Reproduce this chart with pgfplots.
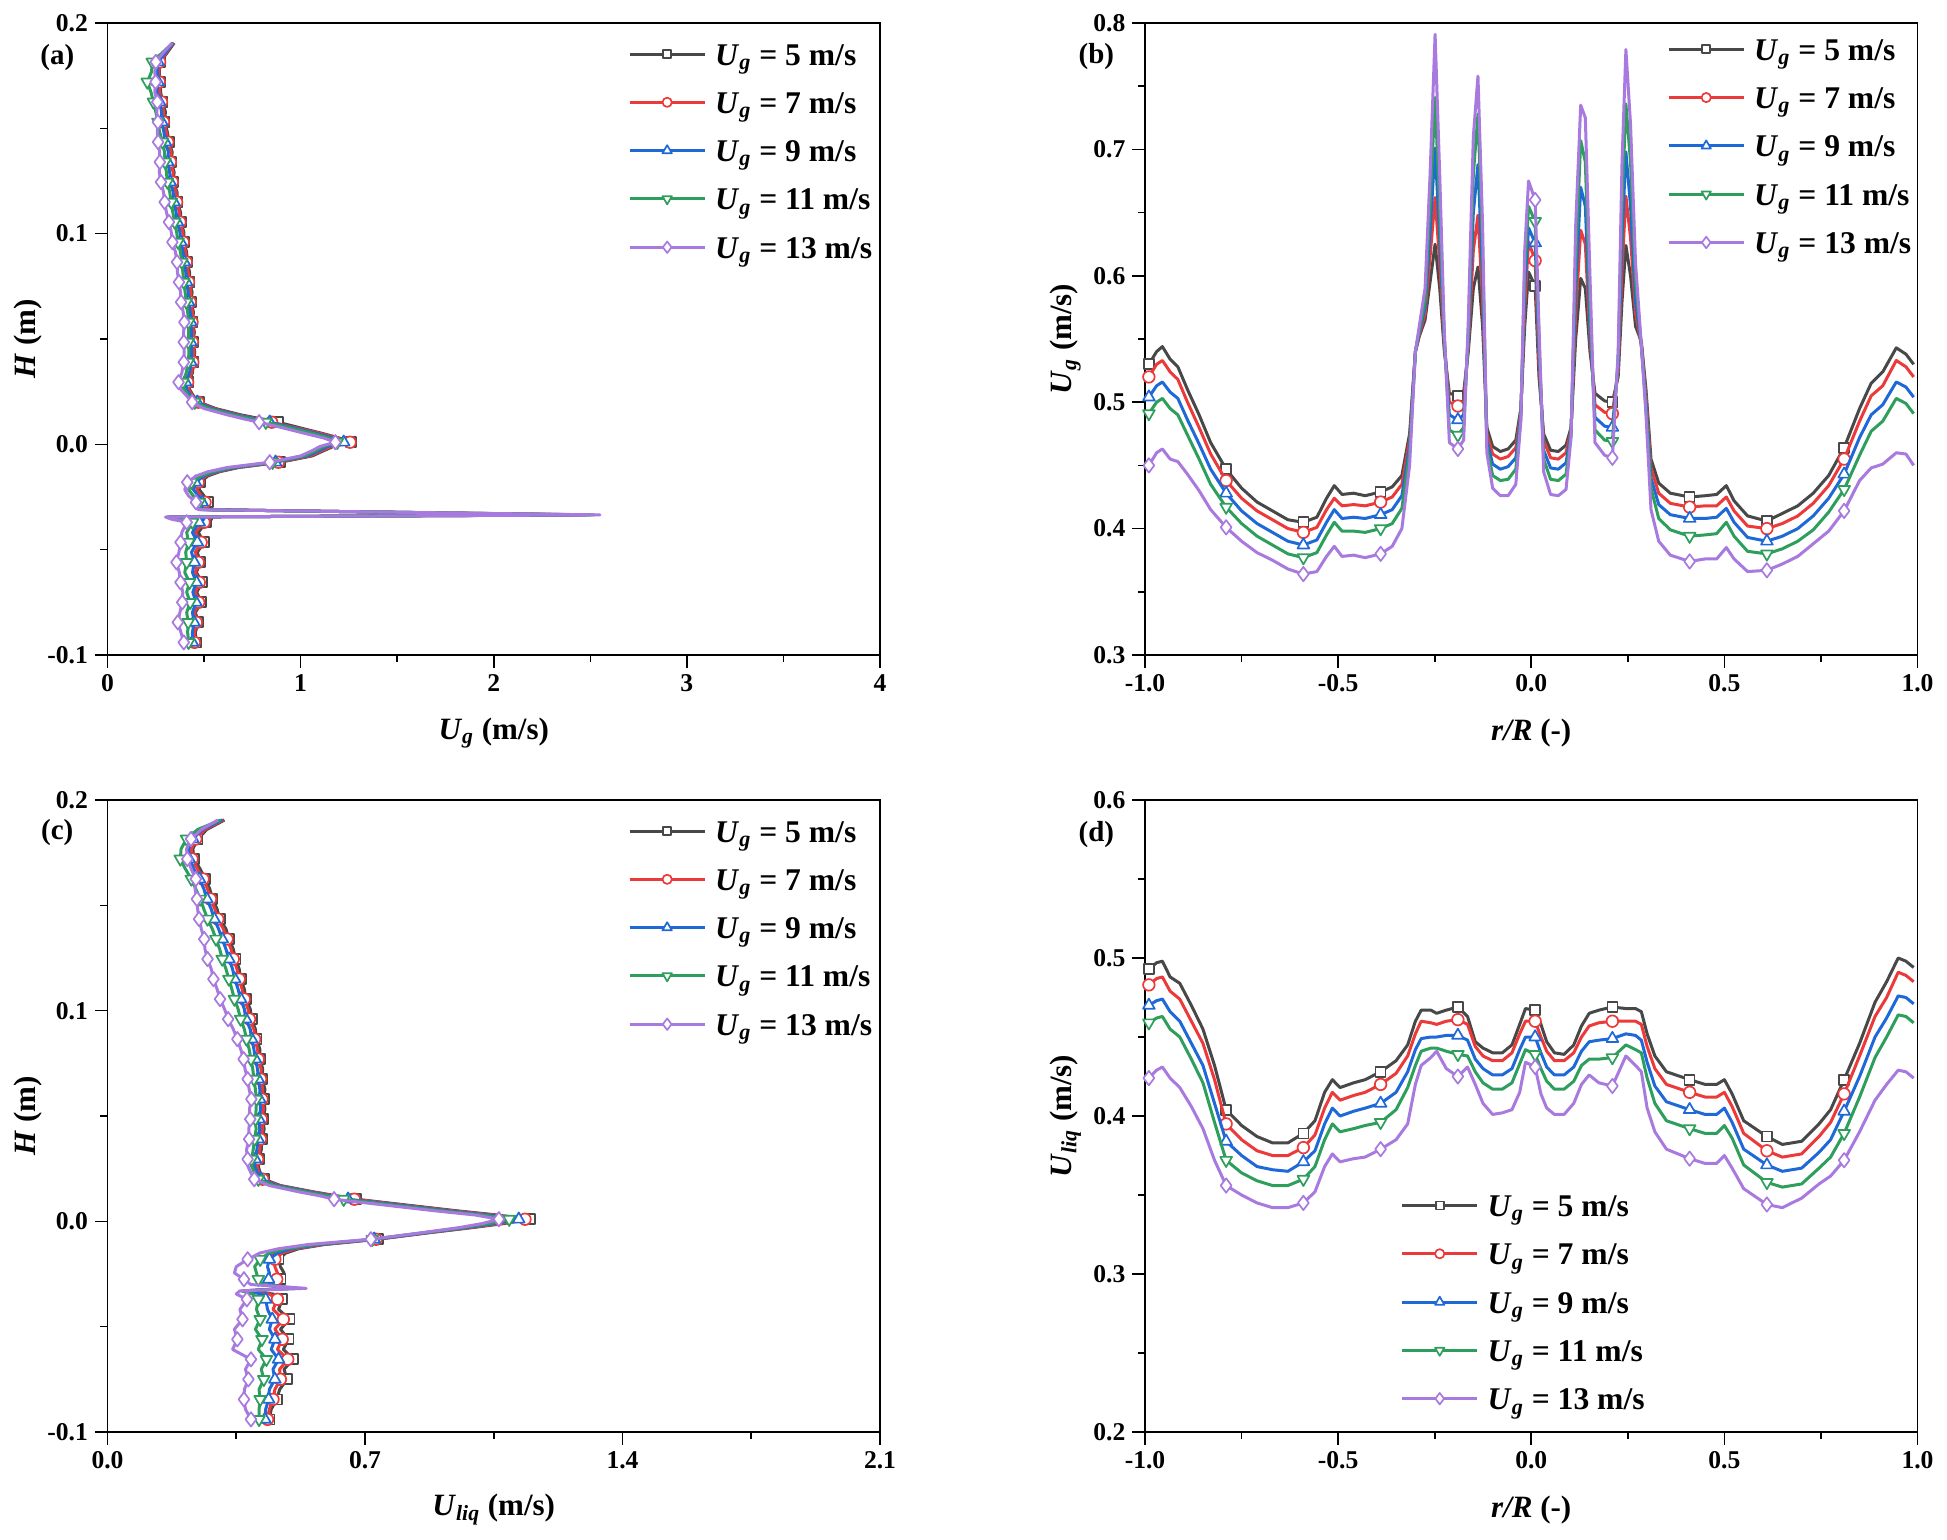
\documentclass[border=0pt]{standalone}
\usepackage{fontspec}
\setmainfont{Liberation Serif}
\usepackage{pgfplots}
\usepackage{pgfplotstable}
\pgfplotsset{compat=1.18}
\definecolor{c5}{HTML}{484848}
\definecolor{c7}{HTML}{EC3A3A}
\definecolor{c9}{HTML}{1F68D8}
\definecolor{c11}{HTML}{2E9E5C}
\definecolor{c13}{HTML}{A87ADF}

\pgfplotstableread{
H a5 a7 a9 a11 a13
0.1905 0.345 0.342 0.340 0.338 0.335
0.1860 0.310 0.305 0.300 0.285 0.290
0.1815 0.272 0.270 0.262 0.232 0.250
0.1768 0.268 0.266 0.258 0.228 0.245
0.1720 0.272 0.268 0.262 0.206 0.249
0.1672 0.275 0.270 0.255 0.225 0.245
0.1625 0.285 0.280 0.270 0.238 0.258
0.1578 0.300 0.292 0.280 0.250 0.255
0.1530 0.295 0.290 0.282 0.262 0.261
0.1482 0.310 0.305 0.292 0.270 0.258
0.1435 0.318 0.312 0.300 0.285 0.262
0.1388 0.335 0.330 0.315 0.295 0.270
0.1340 0.330 0.326 0.312 0.298 0.271
0.1292 0.345 0.340 0.322 0.305 0.268
0.1245 0.340 0.336 0.325 0.310 0.277
0.1198 0.360 0.355 0.340 0.322 0.290
0.1150 0.362 0.358 0.345 0.330 0.296
0.1102 0.378 0.372 0.355 0.338 0.305
0.1055 0.380 0.375 0.362 0.348 0.318
0.1008 0.395 0.390 0.375 0.358 0.330
0.0960 0.395 0.392 0.380 0.365 0.336
0.0912 0.410 0.405 0.392 0.378 0.352
0.0865 0.412 0.408 0.398 0.385 0.360
0.0818 0.425 0.418 0.405 0.390 0.362
0.0770 0.425 0.420 0.410 0.395 0.370
0.0722 0.438 0.432 0.418 0.402 0.378
0.0675 0.432 0.428 0.420 0.408 0.381
0.0628 0.445 0.440 0.428 0.415 0.392
0.0580 0.440 0.438 0.432 0.420 0.398
0.0532 0.450 0.445 0.435 0.420 0.394
0.0485 0.442 0.440 0.432 0.418 0.395
0.0438 0.452 0.448 0.436 0.422 0.397
0.0390 0.445 0.442 0.432 0.418 0.395
0.0340 0.440 0.436 0.425 0.408 0.385
0.0295 0.420 0.415 0.405 0.390 0.368
0.0260 0.425 0.420 0.410 0.398 0.380
0.0230 0.445 0.440 0.432 0.422 0.410
0.0200 0.475 0.470 0.465 0.452 0.438
0.0170 0.560 0.550 0.540 0.525 0.500
0.0140 0.690 0.675 0.665 0.650 0.620
0.0122 0.790 0.770 0.760 0.740 0.700
0.0105 0.883 0.850 0.840 0.820 0.785
0.0080 0.990 0.970 0.955 0.940 0.900
0.0050 1.120 1.110 1.090 1.070 1.030
0.0030 1.200 1.190 1.170 1.150 1.120
0.0010 1.262 1.256 1.223 1.190 1.180
-0.0010 1.170 1.160 1.140 1.120 1.100
-0.0030 1.120 1.110 1.095 1.080 1.060
-0.0055 1.060 1.050 1.035 1.020 1.000
-0.0085 0.893 0.885 0.870 0.855 0.840
-0.0110 0.680 0.670 0.660 0.645 0.620
-0.0130 0.580 0.570 0.560 0.545 0.520
-0.0150 0.520 0.510 0.500 0.485 0.460
-0.0180 0.480 0.470 0.455 0.435 0.413
-0.0215 0.475 0.462 0.445 0.420 0.400
-0.0245 0.500 0.485 0.470 0.445 0.420
-0.0275 0.520 0.505 0.490 0.475 0.458
-0.0310 0.510 0.500 0.490 0.480 0.470
-0.0335 2.450 2.480 2.500 2.520 2.550
-0.0345 0.320 0.315 0.310 0.305 0.300
-0.0355 0.540 0.530 0.500 0.450 0.330
-0.0370 0.510 0.500 0.475 0.440 0.410
-0.0418 0.470 0.455 0.440 0.410 0.385
-0.0465 0.500 0.485 0.465 0.420 0.378
-0.0512 0.465 0.455 0.435 0.405 0.370
-0.0560 0.480 0.470 0.450 0.410 0.357
-0.0608 0.460 0.455 0.440 0.400 0.372
-0.0655 0.490 0.475 0.460 0.425 0.378
-0.0702 0.462 0.455 0.442 0.410 0.390
-0.0750 0.485 0.472 0.458 0.428 0.387
-0.0798 0.455 0.450 0.440 0.410 0.375
-0.0845 0.470 0.460 0.448 0.418 0.364
-0.0892 0.455 0.450 0.440 0.415 0.380
-0.0940 0.458 0.450 0.440 0.420 0.395
-0.0960 0.450 0.445 0.438 0.420 0.410
}\tA

\pgfplotstableread{
H c5 c7 c9 c11 c13
0.1905 0.318 0.315 0.312 0.308 0.300
0.1860 0.270 0.265 0.258 0.245 0.255
0.1815 0.245 0.240 0.232 0.215 0.227
0.1768 0.232 0.228 0.220 0.200 0.215
0.1720 0.235 0.230 0.222 0.198 0.217
0.1672 0.252 0.245 0.235 0.212 0.228
0.1625 0.265 0.260 0.250 0.228 0.240
0.1578 0.278 0.272 0.262 0.240 0.238
0.1530 0.285 0.280 0.270 0.252 0.243
0.1482 0.298 0.292 0.282 0.262 0.245
0.1435 0.305 0.300 0.290 0.272 0.249
0.1388 0.322 0.315 0.302 0.285 0.255
0.1340 0.330 0.325 0.312 0.295 0.263
0.1292 0.342 0.336 0.322 0.305 0.265
0.1245 0.348 0.342 0.330 0.312 0.272
0.1198 0.358 0.352 0.340 0.322 0.282
0.1150 0.362 0.358 0.346 0.330 0.288
0.1102 0.372 0.366 0.355 0.338 0.298
0.1055 0.376 0.372 0.362 0.345 0.306
0.1008 0.388 0.382 0.372 0.355 0.318
0.0960 0.392 0.386 0.376 0.362 0.328
0.0912 0.402 0.398 0.388 0.372 0.342
0.0865 0.405 0.400 0.392 0.378 0.353
0.0818 0.414 0.408 0.398 0.385 0.362
0.0770 0.415 0.410 0.402 0.390 0.370
0.0722 0.422 0.418 0.408 0.395 0.374
0.0675 0.420 0.416 0.410 0.398 0.381
0.0628 0.428 0.422 0.414 0.402 0.385
0.0580 0.425 0.420 0.414 0.405 0.391
0.0532 0.428 0.424 0.416 0.404 0.386
0.0485 0.422 0.418 0.412 0.402 0.388
0.0438 0.426 0.422 0.414 0.404 0.384
0.0390 0.420 0.416 0.410 0.400 0.385
0.0340 0.418 0.414 0.406 0.396 0.378
0.0295 0.412 0.408 0.402 0.392 0.381
0.0260 0.410 0.406 0.400 0.392 0.382
0.0230 0.415 0.412 0.408 0.400 0.390
0.0200 0.425 0.422 0.418 0.410 0.399
0.0170 0.470 0.465 0.460 0.452 0.440
0.0140 0.560 0.555 0.548 0.538 0.520
0.0122 0.620 0.615 0.605 0.595 0.575
0.0105 0.676 0.671 0.654 0.642 0.616
0.0080 0.800 0.790 0.780 0.765 0.740
0.0050 0.950 0.940 0.925 0.910 0.890
0.0030 1.060 1.050 1.035 1.020 1.000
0.0010 1.149 1.135 1.118 1.092 1.064
-0.0010 1.080 1.070 1.055 1.040 1.020
-0.0030 0.990 0.985 0.975 0.965 0.955
-0.0055 0.870 0.865 0.860 0.855 0.850
-0.0085 0.735 0.730 0.725 0.720 0.716
-0.0110 0.590 0.585 0.575 0.565 0.545
-0.0130 0.520 0.512 0.500 0.485 0.465
-0.0150 0.485 0.475 0.462 0.440 0.415
-0.0180 0.465 0.455 0.440 0.415 0.381
-0.0215 0.470 0.455 0.435 0.400 0.350
-0.0245 0.480 0.462 0.440 0.405 0.345
-0.0275 0.470 0.460 0.438 0.410 0.371
-0.0300 0.465 0.455 0.440 0.420 0.390
-0.0318 0.480 0.490 0.500 0.515 0.540
-0.0330 0.380 0.375 0.370 0.365 0.360
-0.0345 0.450 0.440 0.420 0.395 0.350
-0.0370 0.475 0.462 0.430 0.410 0.379
-0.0418 0.465 0.450 0.435 0.405 0.360
-0.0465 0.495 0.478 0.448 0.415 0.367
-0.0512 0.470 0.455 0.440 0.402 0.345
-0.0560 0.492 0.475 0.455 0.420 0.353
-0.0608 0.478 0.462 0.445 0.410 0.340
-0.0655 0.505 0.490 0.465 0.432 0.390
-0.0702 0.480 0.468 0.450 0.418 0.375
-0.0750 0.488 0.470 0.455 0.425 0.383
-0.0798 0.468 0.455 0.440 0.412 0.372
-0.0845 0.460 0.450 0.438 0.415 0.371
-0.0892 0.445 0.440 0.430 0.412 0.375
-0.0940 0.440 0.435 0.428 0.412 0.390
-0.0960 0.442 0.436 0.428 0.415 0.395
}\tC

\pgfplotstableread{
r b5 b7 b9 b11 b13
-0.990 0.530 0.520 0.504 0.491 0.450
-0.970 0.540 0.530 0.513 0.500 0.460
-0.955 0.544 0.533 0.516 0.503 0.463
-0.935 0.534 0.524 0.508 0.495 0.455
-0.915 0.528 0.518 0.503 0.490 0.453
-0.890 0.510 0.500 0.486 0.474 0.443
-0.860 0.490 0.480 0.467 0.455 0.430
-0.830 0.468 0.459 0.447 0.435 0.415
-0.790 0.447 0.438 0.428 0.417 0.401
-0.750 0.432 0.424 0.414 0.404 0.390
-0.710 0.421 0.414 0.404 0.394 0.381
-0.670 0.414 0.407 0.397 0.387 0.375
-0.630 0.407 0.400 0.390 0.380 0.368
-0.590 0.405 0.397 0.387 0.377 0.364
-0.555 0.409 0.401 0.391 0.381 0.366
-0.530 0.424 0.415 0.405 0.395 0.378
-0.510 0.434 0.424 0.415 0.405 0.386
-0.490 0.427 0.418 0.408 0.398 0.378
-0.460 0.428 0.419 0.409 0.398 0.379
-0.430 0.426 0.418 0.408 0.397 0.377
-0.390 0.429 0.421 0.411 0.400 0.380
-0.360 0.433 0.425 0.415 0.404 0.386
-0.335 0.442 0.435 0.426 0.416 0.400
-0.315 0.475 0.470 0.465 0.460 0.450
-0.300 0.540 0.540 0.540 0.540 0.540
-0.290 0.552 0.553 0.555 0.557 0.560
-0.275 0.565 0.570 0.575 0.580 0.590
-0.262 0.595 0.615 0.635 0.655 0.680
-0.249 0.625 0.662 0.701 0.741 0.791
-0.237 0.590 0.610 0.630 0.650 0.680
-0.225 0.540 0.545 0.548 0.550 0.555
-0.212 0.507 0.500 0.490 0.478 0.468
-0.190 0.505 0.497 0.486 0.474 0.463
-0.175 0.508 0.500 0.490 0.480 0.470
-0.163 0.540 0.545 0.550 0.555 0.565
-0.150 0.590 0.620 0.650 0.680 0.710
-0.138 0.607 0.648 0.688 0.728 0.758
-0.126 0.560 0.580 0.600 0.620 0.640
-0.115 0.480 0.475 0.470 0.465 0.460
-0.100 0.465 0.459 0.451 0.442 0.432
-0.080 0.461 0.455 0.447 0.438 0.426
-0.060 0.463 0.457 0.449 0.439 0.426
-0.040 0.470 0.464 0.456 0.447 0.435
-0.027 0.495 0.492 0.490 0.487 0.485
-0.017 0.560 0.575 0.590 0.605 0.620
-0.007 0.603 0.627 0.638 0.655 0.675
0.010 0.592 0.612 0.626 0.643 0.660
0.020 0.520 0.530 0.540 0.550 0.560
0.032 0.475 0.470 0.462 0.455 0.445
0.050 0.462 0.456 0.448 0.439 0.427
0.070 0.461 0.455 0.447 0.438 0.426
0.090 0.466 0.460 0.452 0.443 0.431
0.103 0.480 0.478 0.476 0.474 0.472
0.115 0.550 0.570 0.590 0.610 0.640
0.128 0.598 0.636 0.670 0.707 0.735
0.140 0.590 0.625 0.655 0.690 0.725
0.152 0.540 0.550 0.560 0.575 0.600
0.165 0.507 0.498 0.488 0.478 0.468
0.190 0.501 0.492 0.481 0.470 0.458
0.210 0.500 0.491 0.480 0.469 0.456
0.225 0.520 0.525 0.530 0.535 0.540
0.235 0.580 0.605 0.630 0.655 0.690
0.245 0.624 0.663 0.698 0.736 0.779
0.257 0.600 0.630 0.655 0.690 0.720
0.270 0.560 0.570 0.580 0.595 0.610
0.285 0.548 0.545 0.545 0.545 0.545
0.297 0.510 0.505 0.500 0.495 0.490
0.310 0.455 0.448 0.440 0.432 0.415
0.330 0.436 0.428 0.419 0.408 0.390
0.360 0.428 0.420 0.411 0.399 0.379
0.410 0.425 0.417 0.408 0.394 0.374
0.450 0.426 0.418 0.408 0.395 0.376
0.480 0.427 0.418 0.409 0.396 0.376
0.505 0.434 0.425 0.416 0.405 0.385
0.525 0.422 0.414 0.405 0.394 0.376
0.560 0.410 0.402 0.393 0.382 0.366
0.610 0.406 0.400 0.390 0.380 0.367
0.650 0.412 0.404 0.394 0.384 0.372
0.690 0.418 0.410 0.400 0.390 0.378
0.730 0.428 0.420 0.410 0.399 0.388
0.770 0.442 0.434 0.424 0.413 0.398
0.810 0.464 0.455 0.443 0.431 0.414
0.850 0.495 0.485 0.472 0.458 0.438
0.880 0.515 0.505 0.490 0.477 0.448
0.910 0.524 0.513 0.498 0.485 0.451
0.945 0.543 0.533 0.516 0.503 0.460
0.970 0.538 0.528 0.512 0.499 0.459
0.990 0.530 0.520 0.504 0.491 0.450
}\tB

\pgfplotstableread{
r d5 d7 d9 d11 d13
-0.990 0.493 0.483 0.470 0.459 0.424
-0.970 0.497 0.487 0.473 0.462 0.429
-0.955 0.498 0.488 0.474 0.463 0.431
-0.935 0.488 0.479 0.466 0.455 0.424
-0.910 0.484 0.474 0.460 0.450 0.418
-0.880 0.470 0.460 0.446 0.436 0.406
-0.850 0.455 0.446 0.432 0.421 0.392
-0.820 0.432 0.423 0.408 0.396 0.372
-0.790 0.404 0.395 0.384 0.372 0.356
-0.750 0.394 0.385 0.375 0.364 0.350
-0.710 0.387 0.378 0.368 0.359 0.345
-0.670 0.383 0.375 0.366 0.356 0.342
-0.630 0.383 0.375 0.365 0.356 0.342
-0.590 0.389 0.380 0.371 0.360 0.345
-0.560 0.397 0.388 0.378 0.368 0.352
-0.535 0.415 0.405 0.395 0.385 0.368
-0.515 0.423 0.415 0.405 0.395 0.376
-0.495 0.418 0.410 0.400 0.390 0.371
-0.460 0.421 0.413 0.403 0.392 0.373
-0.430 0.423 0.415 0.405 0.394 0.374
-0.390 0.428 0.420 0.408 0.396 0.379
-0.350 0.435 0.427 0.415 0.404 0.385
-0.320 0.445 0.438 0.428 0.418 0.395
-0.300 0.460 0.452 0.442 0.432 0.420
-0.285 0.467 0.460 0.449 0.441 0.432
-0.260 0.467 0.459 0.450 0.443 0.437
-0.245 0.465 0.458 0.450 0.443 0.441
-0.220 0.467 0.460 0.451 0.441 0.430
-0.190 0.469 0.461 0.451 0.439 0.425
-0.165 0.463 0.458 0.448 0.438 0.431
-0.145 0.447 0.444 0.436 0.428 0.420
-0.125 0.443 0.438 0.430 0.421 0.408
-0.100 0.440 0.435 0.426 0.417 0.401
-0.075 0.440 0.435 0.426 0.417 0.402
-0.050 0.445 0.440 0.430 0.421 0.404
-0.030 0.458 0.452 0.442 0.433 0.415
-0.015 0.468 0.460 0.450 0.442 0.434
0.010 0.467 0.460 0.450 0.439 0.431
0.025 0.458 0.450 0.440 0.430 0.414
0.040 0.447 0.441 0.431 0.422 0.405
0.060 0.440 0.435 0.426 0.417 0.401
0.085 0.439 0.435 0.426 0.417 0.401
0.110 0.445 0.440 0.431 0.422 0.408
0.130 0.457 0.450 0.441 0.432 0.420
0.150 0.465 0.457 0.447 0.436 0.426
0.175 0.467 0.459 0.448 0.436 0.421
0.210 0.469 0.460 0.449 0.437 0.419
0.245 0.468 0.460 0.452 0.445 0.438
0.270 0.468 0.460 0.451 0.442 0.432
0.285 0.466 0.458 0.448 0.440 0.428
0.300 0.452 0.444 0.434 0.424 0.405
0.320 0.438 0.430 0.419 0.408 0.390
0.350 0.428 0.420 0.409 0.397 0.379
0.410 0.423 0.415 0.404 0.392 0.373
0.450 0.420 0.412 0.401 0.389 0.370
0.480 0.420 0.412 0.401 0.389 0.370
0.500 0.423 0.415 0.405 0.394 0.375
0.520 0.414 0.406 0.396 0.386 0.367
0.550 0.397 0.389 0.379 0.369 0.354
0.610 0.387 0.378 0.369 0.358 0.344
0.650 0.382 0.374 0.365 0.355 0.342
0.700 0.384 0.376 0.367 0.357 0.348
0.745 0.395 0.387 0.377 0.367 0.357
0.775 0.404 0.396 0.385 0.374 0.362
0.810 0.423 0.414 0.403 0.389 0.372
0.850 0.446 0.438 0.425 0.412 0.390
0.890 0.472 0.463 0.450 0.437 0.410
0.920 0.485 0.475 0.462 0.450 0.420
0.950 0.500 0.491 0.476 0.464 0.429
0.970 0.498 0.489 0.475 0.463 0.428
0.990 0.494 0.485 0.471 0.459 0.424
}\tD

\pgfplotsset{
  myax/.style={
    scale only axis, width=386.25pt, height=316pt,
    clip mode=individual,
    axis line style={line width=0.8pt},
    every tick/.style={black, line width=0.8pt},
    tick align=outside, tick pos=left,
    major tick length=6.3pt, minor tick length=3.5pt,
    minor x tick num=1, minor y tick num=1,
    tick label style={font=\fontsize{12.8}{14}\selectfont\bfseries},
    every axis x label/.style={at={(axis description cs:0.5,-0.123)}, anchor=center, font=\fontsize{15.5}{17}\selectfont\bfseries},
    every axis y label/.style={at={(axis description cs:-0.103,0.5)}, anchor=center, rotate=90, font=\fontsize{15.5}{17}\selectfont\bfseries},
    legend cell align=left,
    legend style={draw=none, fill=none, inner sep=0pt, outer sep=0pt, anchor=north west,
      font=\fontsize{15.8}{18}\selectfont\bfseries, row sep=5.15pt, column sep=4.5pt,
      nodes={inner sep=0pt, text height=12pt, text depth=7pt}},
    legend image code/.code={\draw[##1, mark indices={2}, yshift=3pt, every mark/.append style={scale=0.8}] plot coordinates {(0pt,0pt) (18.75pt,0pt) (37.5pt,0pt)};},
  },
  s5/.style={color=c5, line width=1.5pt, line join=round, mark=square*, mark size=2.5pt, mark options={fill=white, line width=0.85pt}},
  s7/.style={color=c7, line width=1.5pt, line join=round, mark=*, mark size=2.9pt, mark options={fill=white, line width=0.85pt}},
  s9/.style={color=c9, line width=1.5pt, line join=round, mark=triangle*, mark size=3.4pt, mark options={fill=white, line width=0.85pt}},
  s11/.style={color=c11, line width=1.5pt, line join=round, mark=triangle*, mark size=3.4pt, mark options={fill=white, line width=0.85pt, rotate=180}},
  s13/.style={color=c13, line width=1.5pt, line join=round, mark=diamond*, mark size=3.6pt, mark options={fill=white, line width=0.85pt}},
}
\newcommand{\leg}[1]{\textit{U}\textsubscript{\textit{g}} = #1 m/s}

\begin{document}
\begin{tikzpicture}
\useasboundingbox (0,0) rectangle (973.5pt,-770pt);

% (a)
\begin{axis}[myax, at={(53.75pt,-11.5pt)}, anchor=north west,
  xmin=0, xmax=4, ymin=-0.1, ymax=0.2,
  xtick={0,1,2,3,4}, xticklabels={0,1,2,3,4},
  ytick={-0.1,0,0.1,0.2}, yticklabels={-0.1,0.0,0.1,0.2},
  xlabel={\textit{U}\textsubscript{\textit{g}} (m/s)}, ylabel={\textit{H} (m)},
  legend style={at={(0.674,0.9715)}}]
\addplot[s5, mark indices={3,5,7,9,11,13,15,17,19,21,23,25,27,29,31,33,35,38,42,46,50,54,57,62,64,66,68,70,72,74}] table[x=a5,y=H]{\tA};
\addlegendentry{\leg{5}}
\addplot[s7, mark indices={3,5,7,9,11,13,15,17,19,21,23,25,27,29,31,33,35,38,42,46,50,54,57,62,64,66,68,70,72,74}] table[x=a7,y=H]{\tA};
\addlegendentry{\leg{7}}
\addplot[s9, mark indices={3,5,7,9,11,13,15,17,19,21,23,25,27,29,31,33,35,38,42,46,50,54,57,62,64,66,68,70,72,74}] table[x=a9,y=H]{\tA};
\addlegendentry{\leg{9}}
\addplot[s11, mark indices={3,5,7,9,11,13,15,17,19,21,23,25,27,29,31,33,35,38,42,46,50,54,57,62,64,66,68,70,72,74}] table[x=a11,y=H]{\tA};
\addlegendentry{\leg{11}}
\addplot[s13, mark indices={3,5,7,9,11,13,15,17,19,21,23,25,27,29,31,33,35,38,42,46,50,54,57,62,64,66,68,70,72,74}] table[x=a13,y=H]{\tA};
\addlegendentry{\leg{13}}
\node[font=\fontsize{14.5}{16}\selectfont\bfseries] at (axis description cs:-0.065,0.945) {(a)};
\end{axis}

% (b)
\begin{axis}[myax, at={(572.5pt,-11.5pt)}, anchor=north west,
  xmin=-1, xmax=1, ymin=0.3, ymax=0.8,
  xtick={-1,-0.5,0,0.5,1}, xticklabels={-1.0,-0.5,0.0,0.5,1.0},
  ytick={0.3,0.4,0.5,0.6,0.7,0.8}, yticklabels={0.3,0.4,0.5,0.6,0.7,0.8},
  xlabel={\textit{r/R} (-)}, ylabel={\textit{U}\textsubscript{\textit{g}} (m/s)},
  legend style={at={(0.676,0.979)}}]
\addplot[s5, mark indices={1,9,14,21,33,47,60,71,77,82}] table[x=r,y=b5]{\tB};
\addlegendentry{\leg{5}}
\addplot[s7, mark indices={1,9,14,21,33,47,60,71,77,82}] table[x=r,y=b7]{\tB};
\addlegendentry{\leg{7}}
\addplot[s9, mark indices={1,9,14,21,33,47,60,71,77,82}] table[x=r,y=b9]{\tB};
\addlegendentry{\leg{9}}
\addplot[s11, mark indices={1,9,14,21,33,47,60,71,77,82}] table[x=r,y=b11]{\tB};
\addlegendentry{\leg{11}}
\addplot[s13, mark indices={1,9,14,21,33,47,60,71,77,82}] table[x=r,y=b13]{\tB};
\addlegendentry{\leg{13}}
\node[font=\fontsize{14.5}{16}\selectfont\bfseries] at (axis description cs:-0.063,0.947) {(b)};
\end{axis}

% (c)
\begin{axis}[myax, at={(53.75pt,-400pt)}, anchor=north west,
  xmin=0, xmax=2.1, ymin=-0.1, ymax=0.2,
  xtick={0,0.7,1.4,2.1}, xticklabels={0.0,0.7,1.4,2.1},
  ytick={-0.1,0,0.1,0.2}, yticklabels={-0.1,0.0,0.1,0.2},
  xlabel={\textit{U}\textsubscript{\textit{liq}} (m/s)}, ylabel={\textit{H} (m)},
  legend style={at={(0.674,0.9715)}}]
\addplot[s5, mark indices={3,5,7,9,11,13,15,17,19,21,23,25,27,29,31,33,35,38,42,46,50,54,57,62,64,66,68,70,72,74}] table[x=c5,y=H]{\tC};
\addlegendentry{\leg{5}}
\addplot[s7, mark indices={3,5,7,9,11,13,15,17,19,21,23,25,27,29,31,33,35,38,42,46,50,54,57,62,64,66,68,70,72,74}] table[x=c7,y=H]{\tC};
\addlegendentry{\leg{7}}
\addplot[s9, mark indices={3,5,7,9,11,13,15,17,19,21,23,25,27,29,31,33,35,38,42,46,50,54,57,62,64,66,68,70,72,74}] table[x=c9,y=H]{\tC};
\addlegendentry{\leg{9}}
\addplot[s11, mark indices={3,5,7,9,11,13,15,17,19,21,23,25,27,29,31,33,35,38,42,46,50,54,57,62,64,66,68,70,72,74}] table[x=c11,y=H]{\tC};
\addlegendentry{\leg{11}}
\addplot[s13, mark indices={3,5,7,9,11,13,15,17,19,21,23,25,27,29,31,33,35,38,42,46,50,54,57,62,64,66,68,70,72,74}] table[x=c13,y=H]{\tC};
\addlegendentry{\leg{13}}
\node[font=\fontsize{14.5}{16}\selectfont\bfseries] at (axis description cs:-0.065,0.948) {(c)};
\end{axis}

% (d)
\begin{axis}[myax, at={(572.5pt,-400pt)}, anchor=north west,
  xmin=-1, xmax=1, ymin=0.2, ymax=0.6,
  xtick={-1,-0.5,0,0.5,1}, xticklabels={-1.0,-0.5,0.0,0.5,1.0},
  ytick={0.2,0.3,0.4,0.5,0.6}, yticklabels={0.2,0.3,0.4,0.5,0.6},
  xlabel={\textit{r/R} (-)}, ylabel={\textit{U}\textsubscript{\textit{liq}} (m/s)},
  legend style={at={(0.331,0.379)}}]
\addplot[s5, mark indices={1,9,14,21,29,38,47,54,60,65}] table[x=r,y=d5]{\tD};
\addlegendentry{\leg{5}}
\addplot[s7, mark indices={1,9,14,21,29,38,47,54,60,65}] table[x=r,y=d7]{\tD};
\addlegendentry{\leg{7}}
\addplot[s9, mark indices={1,9,14,21,29,38,47,54,60,65}] table[x=r,y=d9]{\tD};
\addlegendentry{\leg{9}}
\addplot[s11, mark indices={1,9,14,21,29,38,47,54,60,65}] table[x=r,y=d11]{\tD};
\addlegendentry{\leg{11}}
\addplot[s13, mark indices={1,9,14,21,29,38,47,54,60,65}] table[x=r,y=d13]{\tD};
\addlegendentry{\leg{13}}
\node[font=\fontsize{14.5}{16}\selectfont\bfseries] at (axis description cs:-0.063,0.946) {(d)};
\end{axis}
\end{tikzpicture}
\end{document}
